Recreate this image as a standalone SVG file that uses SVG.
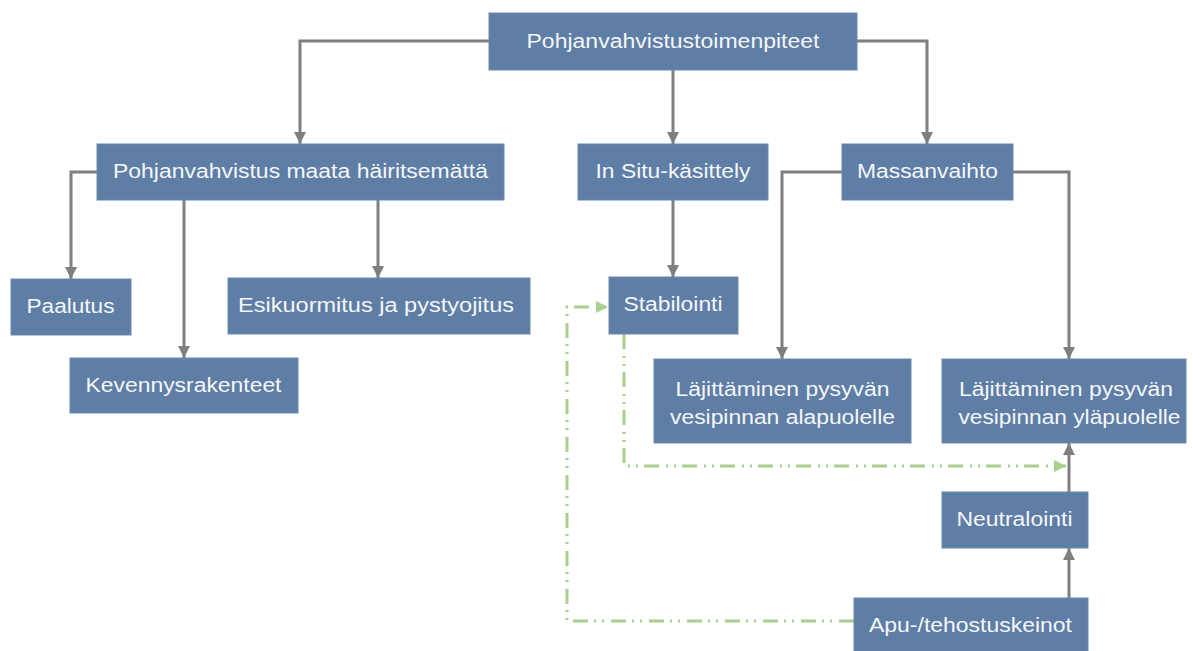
<svg xmlns="http://www.w3.org/2000/svg" width="1192" height="651" viewBox="0 0 1192 651">
  <style>
    .node rect { fill: #5f7ea6; stroke: #6a88ae; stroke-width: 1; }
    .node text { fill: #f5f7fa; font-family: "Liberation Sans", Arial, sans-serif; font-size: 20px; text-anchor: middle; }
    .conn { fill: none; stroke: #7f7f7f; stroke-width: 3; }
    .aux { fill: none; stroke: #a8d08d; stroke-width: 3; stroke-dasharray: 15 7 2 6 2 6; }
  </style>
  <defs>
    <marker id="arrow" viewBox="0 0 12 12" markerWidth="12" markerHeight="12" refX="12" refY="6" orient="auto" markerUnits="userSpaceOnUse">
      <path d="M0,0 L12,6 L0,12 z" fill="#7f7f7f"/>
    </marker>
    <marker id="garrow" viewBox="0 0 12 12" markerWidth="12" markerHeight="12" refX="12" refY="6" orient="auto" markerUnits="userSpaceOnUse">
      <path d="M0,0 L12,6 L0,12 z" fill="#a8d08d"/>
    </marker>
  </defs>
  <rect width="1192" height="651" fill="#ffffff"/>

  <g id="connectors">
    <path class="conn" d="M489,41 H300 V144" marker-end="url(#arrow)"/>
    <path class="conn" d="M673,70 V144" marker-end="url(#arrow)"/>
    <path class="conn" d="M857,41 H927 V144" marker-end="url(#arrow)"/>
    <path class="conn" d="M97,172 H71 V279" marker-end="url(#arrow)"/>
    <path class="conn" d="M184,200 V358" marker-end="url(#arrow)"/>
    <path class="conn" d="M378,200 V278" marker-end="url(#arrow)"/>
    <path class="conn" d="M673,200 V277" marker-end="url(#arrow)"/>
    <path class="conn" d="M842,172 H782 V359" marker-end="url(#arrow)"/>
    <path class="conn" d="M1013,172 H1069 V359" marker-end="url(#arrow)"/>
    <path class="conn" d="M1069,492 V443" marker-end="url(#arrow)"/>
    <path class="conn" d="M1069,598 V548" marker-end="url(#arrow)"/>
    <path class="aux" d="M624,334 V466 H1066" marker-end="url(#garrow)"/>
    <path class="aux" d="M854,621 H567 V307 H608" marker-end="url(#garrow)"/>
  </g>

  <g id="n-top" class="node">
    <rect x="489" y="13" width="368" height="57"/>
    <text x="673" y="48" textLength="293" lengthAdjust="spacingAndGlyphs">Pohjanvahvistustoimenpiteet</text>
  </g>
  <g id="n-maata" class="node">
    <rect x="97" y="144" width="407" height="56"/>
    <text x="300.5" y="178" textLength="375" lengthAdjust="spacingAndGlyphs">Pohjanvahvistus maata häiritsemättä</text>
  </g>
  <g id="n-insitu" class="node">
    <rect x="578" y="144" width="190" height="56"/>
    <text x="673" y="178" textLength="155" lengthAdjust="spacingAndGlyphs">In Situ-käsittely</text>
  </g>
  <g id="n-massanvaihto" class="node">
    <rect x="842" y="144" width="171" height="56"/>
    <text x="927.5" y="178" textLength="141" lengthAdjust="spacingAndGlyphs">Massanvaihto</text>
  </g>
  <g id="n-paalutus" class="node">
    <rect x="11" y="279" width="120" height="56"/>
    <text x="70.5" y="313" textLength="88" lengthAdjust="spacingAndGlyphs">Paalutus</text>
  </g>
  <g id="n-esikuormitus" class="node">
    <rect x="228" y="278" width="302" height="56"/>
    <text x="376" y="312" textLength="276" lengthAdjust="spacingAndGlyphs">Esikuormitus ja pystyojitus</text>
  </g>
  <g id="n-kevennys" class="node">
    <rect x="70" y="358" width="228" height="55"/>
    <text x="183.5" y="392" textLength="196" lengthAdjust="spacingAndGlyphs">Kevennysrakenteet</text>
  </g>
  <g id="n-stabilointi" class="node">
    <rect x="609" y="277" width="129" height="57"/>
    <text x="673" y="311" textLength="99" lengthAdjust="spacingAndGlyphs">Stabilointi</text>
  </g>
  <g id="n-ala" class="node">
    <rect x="654" y="359" width="257" height="84"/>
    <text x="782.5" y="396" textLength="214" lengthAdjust="spacingAndGlyphs">Läjittäminen pysyvän</text>
    <text x="782.5" y="424" textLength="225" lengthAdjust="spacingAndGlyphs">vesipinnan alapuolelle</text>
  </g>
  <g id="n-yla" class="node">
    <rect x="942" y="359" width="244" height="84"/>
    <text x="1066" y="396" textLength="214" lengthAdjust="spacingAndGlyphs">Läjittäminen pysyvän</text>
    <text x="1069.5" y="424" textLength="222" lengthAdjust="spacingAndGlyphs">vesipinnan yläpuolelle</text>
  </g>
  <g id="n-neutralointi" class="node">
    <rect x="942" y="492" width="146" height="56"/>
    <text x="1014.5" y="526" textLength="116" lengthAdjust="spacingAndGlyphs">Neutralointi</text>
  </g>
  <g id="n-apu" class="node">
    <rect x="854" y="598" width="234" height="56"/>
    <text x="970.5" y="632" textLength="203" lengthAdjust="spacingAndGlyphs">Apu-/tehostuskeinot</text>
  </g>
</svg>
